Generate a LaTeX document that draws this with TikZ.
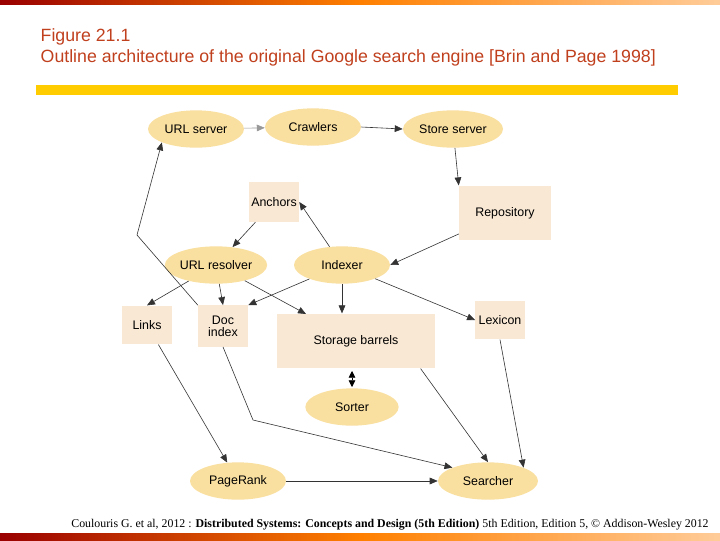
\documentclass[tikz,border=0pt]{standalone}
\usepackage{fontspec}
\setmainfont{Liberation Sans}
\newfontfamily\footfont{Liberation Serif}
\usetikzlibrary{shapes.geometric,arrows.meta}
\definecolor{ellc}{HTML}{F9DFA0}
\definecolor{boxc}{HTML}{F9E8D4}
\definecolor{titc}{HTML}{C0401E}
\definecolor{barc}{HTML}{FFCC00}
\tikzset{
  ell/.style={ellipse,fill=ellc,inner sep=0pt,font=\fontsize{9.3}{10}\selectfont},
  bx/.style={rectangle,fill=boxc,inner sep=0pt,font=\fontsize{9.3}{9}\selectfont,align=center},
  arr/.style={-{Triangle[length=6pt,width=5pt]},line width=0.45pt,black!80},
}
\begin{document}
\begin{tikzpicture}[x=0.75pt,y=-0.75pt]
\useasboundingbox (0,0) rectangle (720,540);
\shade[left color=red!60!black,right color=orange!40, middle color=orange] (0,0) rectangle (720,4);
\shade[left color=red!60!black,right color=orange!40, middle color=orange] (0,533) rectangle (720,540);
\fill[barc] (36,85) rectangle (678,95);
\node[anchor=west,text=titc,font=\fontsize{13.3}{15}\selectfont] (t1) at (36,37) {Figure 21.1};
\node[anchor=west,text=titc,font=\fontsize{13.3}{15}\selectfont] (t2) at (36,58) {Outline architecture of the original Google search engine [Brin and Page 1998]};
\node[font=\footfont\fontsize{8.9}{10}\selectfont] (ft) at (390,525) {Coulouris G. et al, 2012 : \textbf{Distributed Systems: Concepts and Design (5th Edition)} 5th Edition, Edition 5, © Addison-Wesley 2012};

\node[ell,minimum width=72pt,minimum height=28pt] (us) at (196,129) {URL server};
\node[ell,minimum width=72pt,minimum height=28pt] (cr) at (313,127) {Crawlers};
\node[ell,minimum width=75pt,minimum height=28pt] (ss) at (453,129) {Store server};
\node[bx,minimum width=37.5pt,minimum height=30pt] (an) at (274,202) {Anchors};
\node[bx,minimum width=69pt,minimum height=41pt] (re) at (505,213) {Repository};
\node[ell,minimum width=72pt,minimum height=28pt] (ur) at (216,265) {URL resolver};
\node[ell,minimum width=72pt,minimum height=28pt] (ix) at (342,265) {Indexer};
\node[bx,minimum width=37.5pt,minimum height=29pt] (li) at (147,325) {Links};
\node[bx,minimum width=37.5pt,minimum height=31pt] (di) at (223,326) {Doc\\index};
\node[bx,minimum width=119pt,minimum height=41pt] (sb) at (356,341) {Storage barrels};
\node[bx,minimum width=37pt,minimum height=29pt] (lx) at (500,320) {Lexicon};
\node[ell,minimum width=70pt,minimum height=28pt] (so) at (352,407) {Sorter};
\node[ell,minimum width=72pt,minimum height=28pt] (pr) at (238,481) {PageRank};
\node[ell,minimum width=75pt,minimum height=28pt] (se) at (488,481) {Searcher};

\coordinate (k1) at (137,235);
\coordinate (k2) at (253,420);

\draw[arr,black!40] (us) -- (cr);
\draw[arr] (cr.east) -- (ss.west);
\draw[arr] (ss) -- (re.north west);
\draw[arr] (re) -- (ix.east);
\draw[arr] (ix) -- (an.east);
\draw[arr] (an) -- (ur);
\draw[arr] (ur) -- (li.north);
\draw[arr] (ur) -- (di.north);
\draw[arr] (ur) -- (306,314);
\draw[arr] (ix) -- (di.north east);
\draw[arr] (ix) -- (ix |- sb.north);
\draw[arr] (ix) -- (lx.west);
\draw[arr] (di.north west) -- (k1) -- (us.south west);
\draw[arr] (li) -- (pr);
\draw[arr] (di.south) -- (k2) -- (se.north west);
\draw[arr] (sb.south east) ++(-15,0) -- (se.north);
\draw[arr] (lx.south) -- (se.north east);
\draw[{Triangle[length=5pt,width=5pt]}-{Triangle[length=5pt,width=5pt]},line width=0.45pt] (352,371) -- (352,387);
\draw[arr] (pr) -- (se);
\end{tikzpicture}
\end{document}
